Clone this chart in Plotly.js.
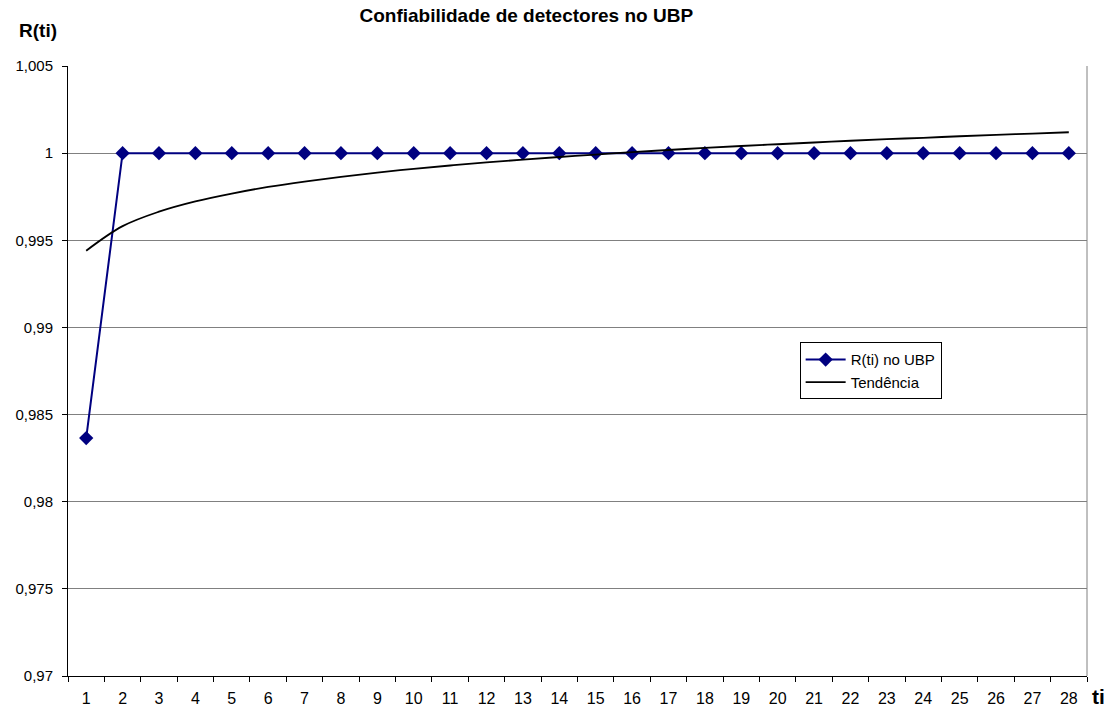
<!DOCTYPE html>
<html>
<head>
<meta charset="utf-8">
<script src="https://cdn.plot.ly/plotly-3.0.1.min.js"></script>
<style>html,body{margin:0;padding:0;background:#fff}#chart{width:1115px;height:711px}</style>
</head>
<body>
<div id="chart"></div>
<script>
var ti = [1,2,3,4,5,6,7,8,9,10,11,12,13,14,15,16,17,18,19,20,21,22,23,24,25,26,27,28];
var rti = [0.98365,1,1,1,1,1,1,1,1,1,1,1,1,1,1,1,1,1,1,1,1,1,1,1,1,1,1,1];
var trend = [0.99440,0.99581,0.99664,0.99723,0.99768,0.99806,0.99837,0.99864,0.99888,0.99910,
             0.99929,0.99947,0.99963,0.99978,0.99992,1.00006,1.00018,1.00030,1.00041,1.00051,
             1.00061,1.00071,1.00080,1.00088,1.00097,1.00105,1.00112,1.00120];
var yTickVals = [0.97,0.975,0.98,0.985,0.99,0.995,1,1.005];
var yTickText = ['0,97','0,975','0,98','0,985','0,99','0,995','1','1,005'];
var xTickLabels = ti.map(String);
var xBounds = [];
for (var i = 0; i <= ti.length; i++) xBounds.push(i + 0.5);

var traces = [
  {x: ti, y: rti, type: 'scatter', mode: 'lines+markers', name: 'R(ti) no UBP',
   line: {color: '#000080', width: 2},
   marker: {symbol: 'diamond', size: 11, color: '#000080'}},
  {x: ti, y: trend, type: 'scatter', mode: 'lines', name: 'Tendência',
   line: {color: '#000000', width: 1.8, shape: 'spline'}},
  {x: [xBounds[0]], y: [0.97], xaxis: 'x2', type: 'scatter', mode: 'markers',
   marker: {opacity: 0}, showlegend: false, hoverinfo: 'skip'}
];

var layout = {
  width: 1115, height: 711,
  paper_bgcolor: '#fff', plot_bgcolor: '#fff',
  margin: {l: 68, r: 28, t: 66, b: 35},
  font: {family: 'Liberation Sans, Arial, sans-serif', size: 15, color: '#000'},
  title: {text: '<b>Confiabilidade de detectores no UBP</b>', x: 0.472, xanchor: 'center',
          y: 0.988, yanchor: 'top', font: {size: 19, color: '#000'}},
  showlegend: true,
  legend: {x: 0.718, y: 0.547, xanchor: 'left', yanchor: 'top',
           bordercolor: '#000', borderwidth: 1, bgcolor: '#fff',
           font: {size: 15}, tracegroupgap: 0, itemwidth: 40},
  xaxis: {range: [0.5, 28.5], tickvals: ti, ticktext: xTickLabels, ticks: '',
          showgrid: false, zeroline: false, showline: true, linecolor: '#000', linewidth: 1,
          tickfont: {size: 16}, ticklabelstandoff: 8, fixedrange: true},
  xaxis2: {range: [0.5, 28.5], overlaying: 'x', tickvals: xBounds, ticks: 'outside',
           ticklen: 5, tickcolor: '#000', showticklabels: false, showgrid: false,
           zeroline: false, showline: false, side: 'bottom', anchor: 'y'},
  yaxis: {range: [0.97, 1.005], tickvals: yTickVals, ticktext: yTickText, ticks: 'outside',
          ticklen: 5, tickcolor: '#000', showgrid: true, gridcolor: '#808080', gridwidth: 1,
          zeroline: false, showline: true, linecolor: '#000', linewidth: 1,
          tickfont: {size: 15}, ticklabelstandoff: 6, fixedrange: true},
  shapes: [
    {type: 'line', xref: 'paper', yref: 'paper', x0: 1, x1: 1, y0: 0, y1: 1,
     line: {color: '#808080', width: 1}}
  ],
  annotations: [
    {text: '<b>R(ti)</b>', xref: 'paper', yref: 'paper', x: -51/1019, y: 1.0 + 36/610,
     xanchor: 'left', yanchor: 'middle', showarrow: false, font: {size: 19}},
    {text: '<b>ti</b>', xref: 'paper', yref: 'paper', x: 1.0 + 3/1019, y: -20/610,
     xanchor: 'left', yanchor: 'middle', showarrow: false, font: {size: 21}}
  ]
};

Plotly.newPlot('chart', traces, layout, {displayModeBar: false, staticPlot: true});
</script>
</body>
</html>
